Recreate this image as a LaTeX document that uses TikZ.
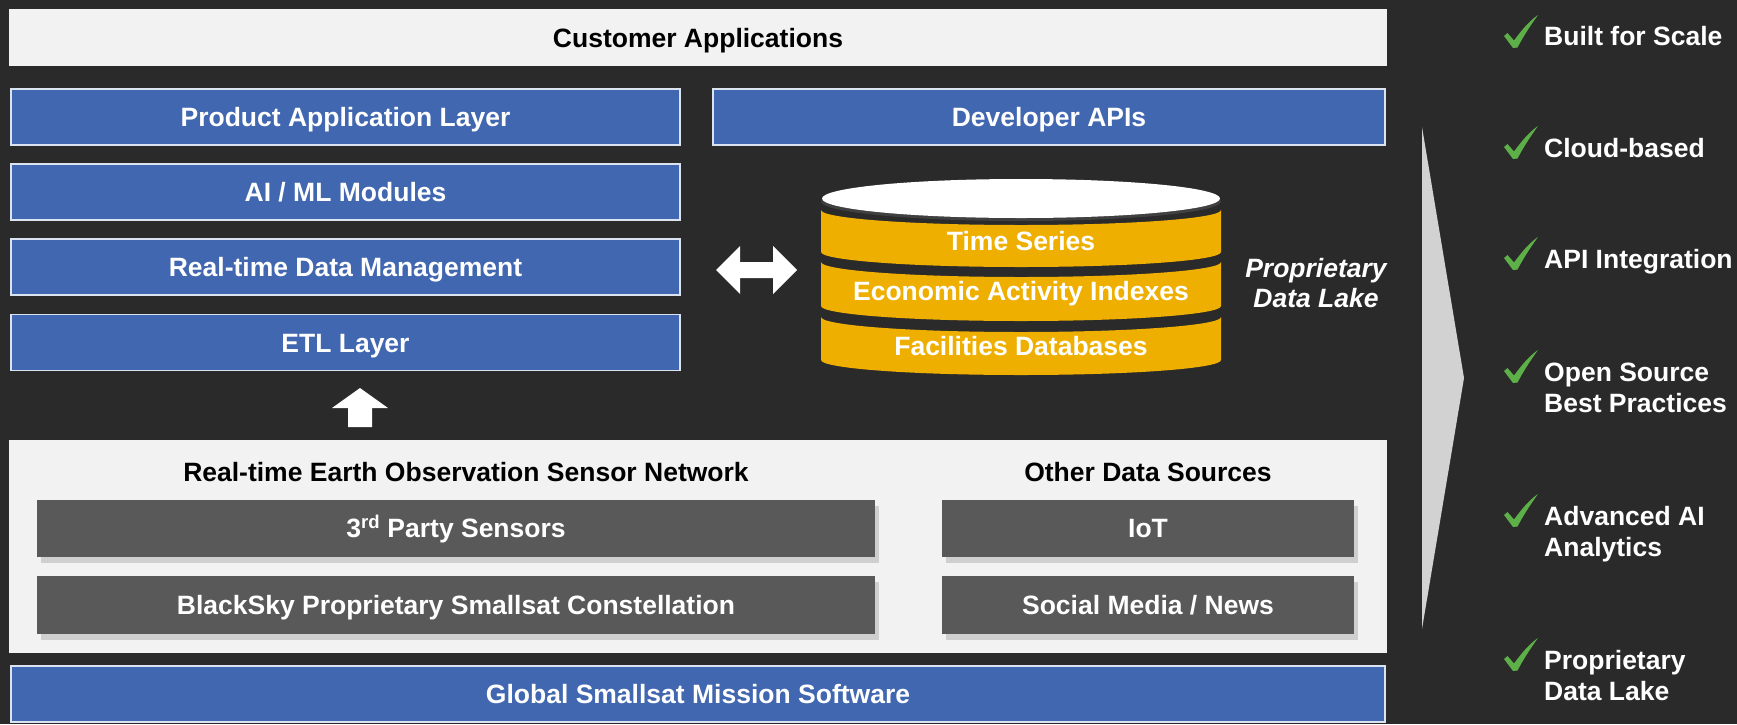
\documentclass[tikz,border=0pt]{standalone}
\usepackage{fontspec}
\setmainfont{Liberation Sans}
\usetikzlibrary{shadows}
\definecolor{bg}{HTML}{2A2A2A}
\definecolor{panel}{HTML}{F2F2F2}
\definecolor{blu}{HTML}{4167B0}
\definecolor{blubord}{HTML}{DCE3F0}
\definecolor{grybox}{HTML}{595959}
\definecolor{gold}{HTML}{EEAF00}
\definecolor{chk}{HTML}{5DAF48}
\definecolor{tri}{HTML}{D2D2D2}
\begin{document}
\begin{tikzpicture}[x=1pt,y=-1pt,
  txt/.style={font=\fontsize{26.5}{31}\selectfont\bfseries, inner sep=0pt},
  box/.style={txt, rectangle, text height=19pt, text depth=0pt},
  bluebox/.style={box, fill=blu, draw=blubord, line width=1.5pt, text=white},
  lightbox/.style={box, fill=panel, text=black},
  graybox/.style={box, fill=grybox, text=white, drop shadow={shadow xshift=4pt, shadow yshift=-6pt, opacity=0.3}},
  heading/.style={txt, text=black, anchor=base},
  bandtxt/.style={txt, text=white, anchor=base},
  item/.style={txt, text=white, align=left, anchor=base west},
  chkmark/.pic={\fill[chk] (0,1) -- (-9,-11) -- (-5.5,-14) -- (1,-6.5) .. controls (8,-16) and (16,-26) .. (25,-32) .. controls (17,-21) and (10,-10) .. (4.5,0.5) -- cycle;}
]
\useasboundingbox (0,0) rectangle (1737,724);
\fill[bg] (0,0) rectangle (1737,724);

% top layer
\node[lightbox, minimum width=1378pt, minimum height=57pt] (cust) at (698,37.5) {Customer Applications};
\node[bluebox, minimum width=669pt, minimum height=56pt] (pal) at (345.5,117) {Product Application Layer};
\node[bluebox, minimum width=672pt, minimum height=56pt] (dev) at (1049,117) {Developer APIs};
\node[bluebox, minimum width=669pt, minimum height=56pt] (aiml) at (345.5,192) {AI / ML Modules};
\node[bluebox, minimum width=669pt, minimum height=56pt] (rtdm) at (345.5,267) {Real-time Data Management};
\node[bluebox, minimum width=669pt, minimum height=56pt] (etl) at (345.5,342.5) {ETL Layer};

% up arrow
\fill[white] (360,388) -- (388,408) -- (372,408) -- (372,427) -- (348,427) -- (348,408) -- (332,408) -- cycle;

% double arrow
\fill[white] (716,270) -- (740,246) -- (740,262) -- (773,262) -- (773,246) -- (797,270) -- (773,294) -- (773,278) -- (740,278) -- (740,294) -- cycle;

% cylinder
\fill[gold] (821,210) .. controls (821,218.3) and (910,225) .. (1021,225) .. controls (1132,225) and (1221,218.3) .. (1221,210) -- (1221,252) .. controls (1221,260.3) and (1132,267) .. (1021,267) .. controls (910,267) and (821,260.3) .. (821,252) -- cycle;
\fill[gold] (821,262) .. controls (821,270.3) and (910,277) .. (1021,277) .. controls (1132,277) and (1221,270.3) .. (1221,262) -- (1221,306) .. controls (1221,314.3) and (1132,321) .. (1021,321) .. controls (910,321) and (821,314.3) .. (821,306) -- cycle;
\fill[gold] (821,317) .. controls (821,325.3) and (910,332) .. (1021,332) .. controls (1132,332) and (1221,325.3) .. (1221,317) -- (1221,360) .. controls (1221,368.3) and (1132,375) .. (1021,375) .. controls (910,375) and (821,368.3) .. (821,360) -- cycle;
\fill[black!75] (1021,201.5) ellipse [x radius=200pt, y radius=19.5pt];
\fill[white] (1021,198.5) ellipse [x radius=199pt, y radius=19.5pt];
\node[bandtxt] (ts) at (1021,250) {Time Series};
\node[bandtxt] (eai) at (1021,300) {Economic Activity Indexes};
\node[bandtxt] (fdb) at (1021,355) {Facilities Databases};
\node[txt, font=\fontsize{26.5}{30}\selectfont\bfseries\itshape, text=white, align=center] (pdl) at (1316,283) {Proprietary\\Data Lake};

% sensor panel
\node[fill=panel, minimum width=1378pt, minimum height=213pt, inner sep=0pt] (spanel) at (698,546.5) {};
\node[heading] (eosn) at (466,481) {Real-time Earth Observation Sensor Network};
\node[heading] (ods) at (1148,481) {Other Data Sources};
\node[graybox, minimum width=838pt, minimum height=57pt] (tps) at (456,528) {3\textsuperscript{rd} Party Sensors};
\node[graybox, minimum width=838pt, minimum height=58pt] (bsk) at (456,604.5) {BlackSky Proprietary Smallsat Constellation};
\node[graybox, minimum width=412pt, minimum height=57pt] (iot) at (1148,528) {IoT};
\node[graybox, minimum width=412pt, minimum height=58pt] (smn) at (1148,604.5) {Social Media / News};
\node[bluebox, minimum width=1374pt, minimum height=56pt] (gsms) at (698,694) {Global Smallsat Mission Software};

% right side
\fill[tri] (1422,127) -- (1464,378) -- (1422,629) -- cycle;
\pic at (1513,47) {chkmark};
\node[item] (i1) at (1544,45) {Built for Scale};
\pic at (1513,158) {chkmark};
\node[item] (i2) at (1544,157) {Cloud-based};
\pic at (1513,269) {chkmark};
\node[item] (i3) at (1544,268.7) {API Integration};
\pic at (1513,382) {chkmark};
\node[item] (i4) at (1544,412) {Open Source\\Best Practices};
\pic at (1513,526) {chkmark};
\node[item] (i5) at (1544,556) {Advanced AI\\Analytics};
\pic at (1513,670) {chkmark};
\node[item] (i6) at (1544,700) {Proprietary\\Data Lake};
\end{tikzpicture}
\end{document}
